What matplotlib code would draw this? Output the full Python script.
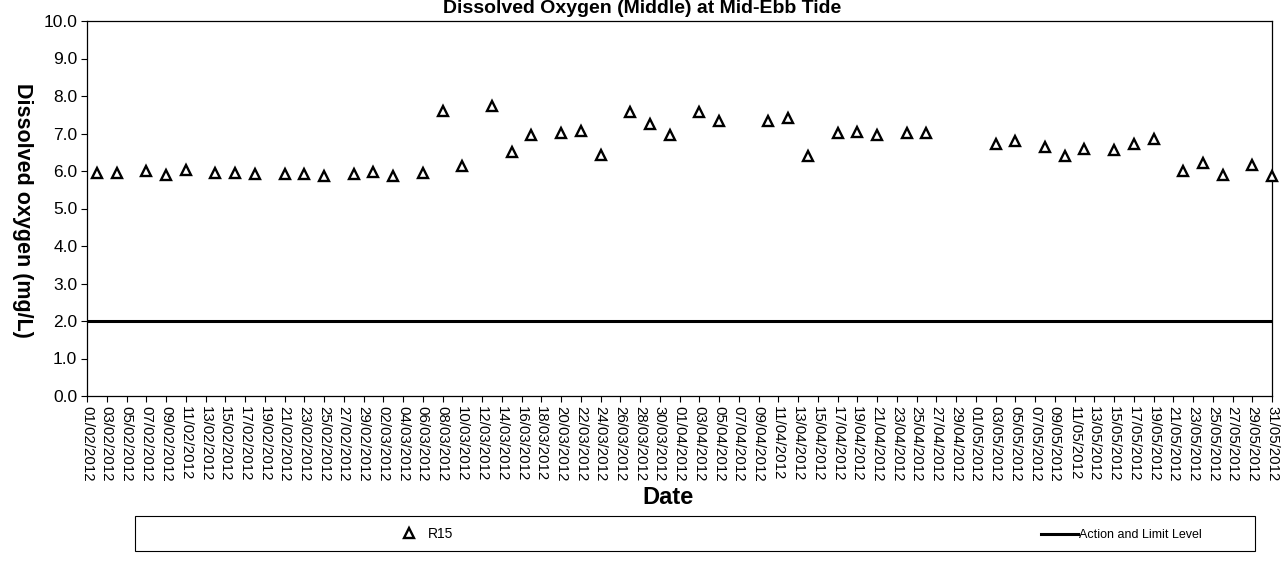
import matplotlib
matplotlib.use("Agg")
import matplotlib.pyplot as plt
import matplotlib.dates as mdates
from matplotlib.lines import Line2D
from matplotlib.patches import Rectangle
import pandas as pd

plt.rcParams['font.family'] = ['Liberation Sans', 'DejaVu Sans']

# ---- data ----
sample_dates = [
    "2012-02-02", "2012-02-04", "2012-02-07", "2012-02-09", "2012-02-11",
    "2012-02-14", "2012-02-16", "2012-02-18", "2012-02-21", "2012-02-23",
    "2012-02-25", "2012-02-28", "2012-03-01", "2012-03-03", "2012-03-06",
    "2012-03-08", "2012-03-10", "2012-03-13", "2012-03-15", "2012-03-17",
    "2012-03-20", "2012-03-22", "2012-03-24", "2012-03-27", "2012-03-29",
    "2012-03-31", "2012-04-03", "2012-04-05", "2012-04-10", "2012-04-12",
    "2012-04-14", "2012-04-17", "2012-04-19", "2012-04-21", "2012-04-24",
    "2012-04-26", "2012-05-03", "2012-05-05", "2012-05-08", "2012-05-10",
    "2012-05-12", "2012-05-15", "2012-05-17", "2012-05-19", "2012-05-22",
    "2012-05-24", "2012-05-26", "2012-05-29", "2012-05-31",
]
r15_do = [
    5.95, 5.95, 6.00, 5.89, 6.02,
    5.95, 5.96, 5.93, 5.93, 5.91,
    5.87, 5.91, 5.97, 5.87, 5.96,
    7.59, 6.13, 7.73, 6.52, 6.95,
    7.01, 7.07, 6.42, 7.57, 7.26,
    6.97, 7.58, 7.33, 7.34, 7.41,
    6.41, 7.02, 7.03, 6.96, 7.02,
    7.02, 6.73, 6.79, 6.65, 6.39,
    6.60, 6.56, 6.73, 6.85, 6.00,
    6.21, 5.89, 6.16, 5.86,
]
action_limit_level = 2.0
x_start, x_end = "2012-02-01", "2012-05-31"
y_ticks = [0.0, 1.0, 2.0, 3.0, 4.0, 5.0, 6.0, 7.0, 8.0, 9.0, 10.0]

title = "Dissolved Oxygen (Middle) at Mid-Ebb Tide"
y_label = "Dissolved oxygen (mg/L)"
x_label = "Date"
series_name = "R15"
line_name = "Action and Limit Level"

# ---- figure ----
W, H = 1284, 573
fig = plt.figure(figsize=(12.84, 5.73), dpi=100)
ax_top, ax_bot = 21, 396
ax = fig.add_axes([87 / W, 1 - ax_bot / H, (1272 - 87) / W, (ax_bot - ax_top) / H])

dates = pd.to_datetime(sample_dates)
ax.plot(dates, r15_do, linestyle='none', marker='^', markersize=7,
        markerfacecolor='white', markeredgecolor='black', markeredgewidth=1.7,
        clip_on=False, zorder=3)
ax.axhline(action_limit_level, color='black', linewidth=2.2, zorder=2)

ax.set_xlim(pd.Timestamp(x_start), pd.Timestamp(x_end))
ax.set_ylim(0, 10)
ax.set_yticks(y_ticks)
ax.yaxis.set_major_formatter(plt.FormatStrFormatter('%.1f'))

tick_dates = pd.date_range(x_start, x_end, freq='2D')
ax.set_xticks(tick_dates)
ax.xaxis.set_major_formatter(mdates.DateFormatter('%d/%m/%Y'))
plt.setp(ax.get_xticklabels(), rotation=-90, ha='center', va='top', fontsize=10.8)
plt.setp(ax.get_yticklabels(), fontsize=12.5)
ax.tick_params(axis='both', direction='out', length=4, width=0.8, color='black')
ax.tick_params(axis='x', pad=3)
ax.tick_params(axis='y', pad=3)

for s in ax.spines.values():
    s.set_color('black')
    s.set_linewidth(0.9)

fig.text(0.5, 1.0, title, ha='center', va='top',
         fontsize=14, fontweight='bold')
fig.text(22 / W, 1 - 210 / H, y_label, rotation=-90, ha='center', va='center',
         fontsize=15.5, fontweight='bold')
fig.text(668 / W, 1 - 497 / H, x_label, ha='center', va='center',
         fontsize=17, fontweight='bold')

# legend frame
fig.patches.append(Rectangle((135 / W, 1 - 551 / H), (1255 - 135) / W, 35 / H,
                             transform=fig.transFigure, facecolor='white',
                             edgecolor='black', linewidth=0.8))
h1 = Line2D([], [], linestyle='none', marker='^', markersize=7,
            markerfacecolor='white', markeredgecolor='black', markeredgewidth=1.7)
h2 = Line2D([], [], color='black', linewidth=2.2)
fig.legend([h1], [series_name], loc='center left',
           bbox_to_anchor=(386 / W, 1 - 534 / H), frameon=False,
           fontsize=10, handlelength=1.5, handletextpad=0.6)
fig.legend([h2], [line_name], loc='center left',
           bbox_to_anchor=(1030 / W, 1 - 535 / H), frameon=False,
           fontsize=9, handlelength=2.9, handletextpad=0.1)

fig.savefig("out.png", dpi=100)
